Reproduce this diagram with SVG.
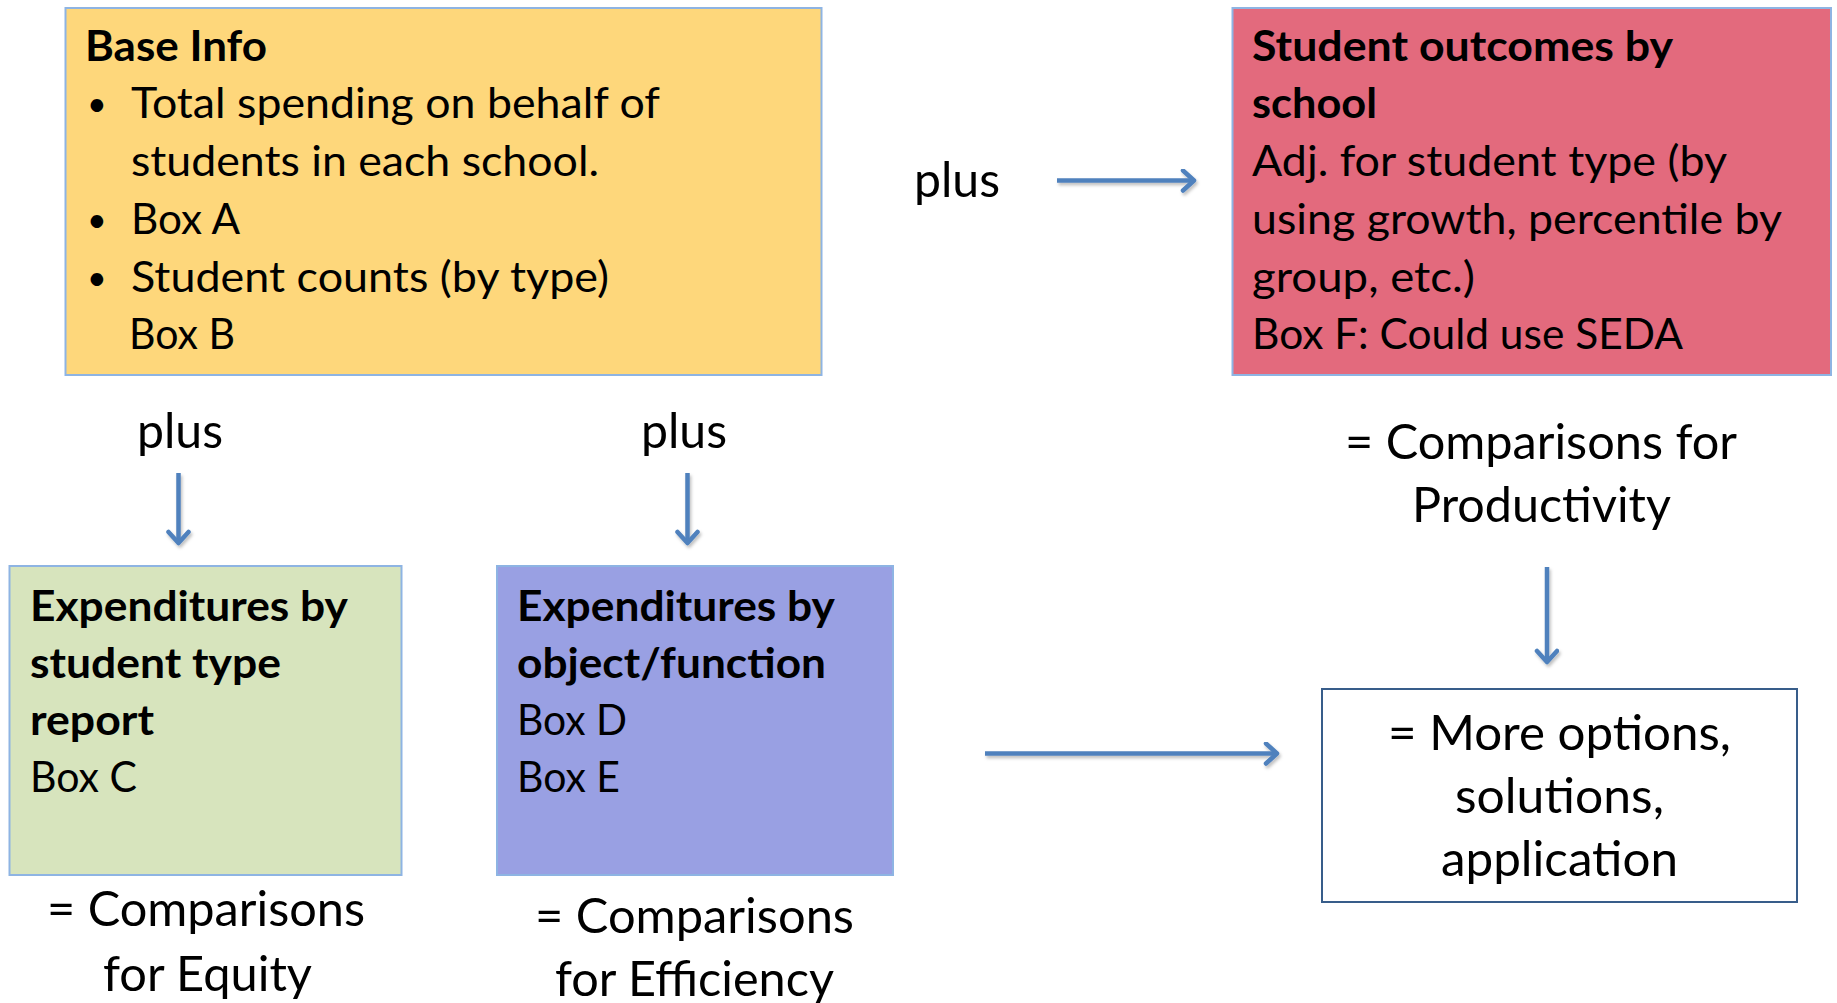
<svg xmlns="http://www.w3.org/2000/svg" width="1837" height="1003" viewBox="0 0 1837 1003">
<style>
text{font-family:Lato,"Open Sans","Liberation Sans",sans-serif;fill:#000}
.b{font-size:42px}
.bu{font-size:34px}
.h{font-size:42px;font-weight:700}
.l{font-size:48px}
.box{stroke:#8EB4E3;stroke-width:2}
.con{stroke:#4F81BD;stroke-width:4.5;fill:none;marker-end:url(#ah);filter:url(#sh)}
</style>
<defs>
<marker id="ah" markerUnits="userSpaceOnUse" markerWidth="30" markerHeight="30" refX="14" refY="12" orient="auto">
<path d="M3,2 L14,12 L3,22" fill="none" stroke="#4F81BD" stroke-width="4.5" stroke-linecap="round" stroke-linejoin="round"/>
</marker>
<filter id="sh" filterUnits="userSpaceOnUse" x="0" y="0" width="1837" height="1003">
<feDropShadow dx="1.5" dy="2.5" stdDeviation="1.5" flood-color="#000" flood-opacity="0.25"/>
</filter>
</defs>
<rect width="1837" height="1003" fill="#fff"/>
<g id="base-info">
<rect class="box" x="65.5" y="8" width="756" height="367" fill="#FED77B"/>
<text class="h" x="85" y="61" textLength="182" lengthAdjust="spacingAndGlyphs">Base Info</text>
<text class="bu" x="87" y="116">•</text>
<text class="b" x="131" y="118" textLength="529" lengthAdjust="spacingAndGlyphs">Total spending on behalf of</text>
<text class="b" x="131" y="176" textLength="468" lengthAdjust="spacingAndGlyphs">students in each school.</text>
<text class="bu" x="87" y="232">•</text>
<text class="b" x="131" y="234" textLength="109" lengthAdjust="spacingAndGlyphs">Box A</text>
<text class="bu" x="87" y="290">•</text>
<text class="b" x="131" y="292" textLength="478" lengthAdjust="spacingAndGlyphs">Student counts (by type)</text>
<text class="b" x="129" y="349" textLength="106" lengthAdjust="spacingAndGlyphs">Box B</text>
</g>
<g id="student-outcomes">
<rect class="box" x="1232.5" y="8" width="598.5" height="367" fill="#E36A7D"/>
<text class="h" x="1252" y="61" textLength="421" lengthAdjust="spacingAndGlyphs">Student outcomes by</text>
<text class="h" x="1252" y="118" textLength="125" lengthAdjust="spacingAndGlyphs">school</text>
<text class="b" x="1252" y="176" textLength="475" lengthAdjust="spacingAndGlyphs">Adj. for student type (by</text>
<text class="b" x="1252" y="234" textLength="530" lengthAdjust="spacingAndGlyphs">using growth, percentile by</text>
<text class="b" x="1252" y="292" textLength="223" lengthAdjust="spacingAndGlyphs">group, etc.)</text>
<text class="b" x="1252" y="349" textLength="431" lengthAdjust="spacingAndGlyphs">Box F: Could use SEDA</text>
</g>
<g id="exp-student-type">
<rect class="box" x="9.5" y="566" width="392" height="309" fill="#D7E4BD"/>
<text class="h" x="30" y="621" textLength="318" lengthAdjust="spacingAndGlyphs">Expenditures by</text>
<text class="h" x="30" y="678" textLength="251" lengthAdjust="spacingAndGlyphs">student type</text>
<text class="h" x="30" y="735" textLength="124" lengthAdjust="spacingAndGlyphs">report</text>
<text class="b" x="30" y="792" textLength="107" lengthAdjust="spacingAndGlyphs">Box C</text>
</g>
<g id="exp-object-function">
<rect class="box" x="497" y="566" width="396" height="309" fill="#99A0E3"/>
<text class="h" x="517" y="621" textLength="318" lengthAdjust="spacingAndGlyphs">Expenditures by</text>
<text class="h" x="517" y="678" textLength="309" lengthAdjust="spacingAndGlyphs">object/function</text>
<text class="b" x="517" y="735" textLength="110" lengthAdjust="spacingAndGlyphs">Box D</text>
<text class="b" x="517" y="792" textLength="103" lengthAdjust="spacingAndGlyphs">Box E</text>
</g>
<g id="more-options">
<rect x="1322" y="689" width="475" height="213" fill="#fff" stroke="#385D8A" stroke-width="2"/>
<text class="l" x="1388" y="750" textLength="343" lengthAdjust="spacingAndGlyphs">= More options,</text>
<text class="l" x="1455" y="813" textLength="209" lengthAdjust="spacingAndGlyphs">solutions,</text>
<text class="l" x="1441" y="876" textLength="237" lengthAdjust="spacingAndGlyphs">application</text>
</g>
<g id="labels">
<text class="l" x="914" y="197" textLength="86" lengthAdjust="spacingAndGlyphs">plus</text>
<text class="l" x="137" y="448" textLength="86" lengthAdjust="spacingAndGlyphs">plus</text>
<text class="l" x="641" y="448" textLength="86" lengthAdjust="spacingAndGlyphs">plus</text>
<text class="l" x="1345" y="459" textLength="392" lengthAdjust="spacingAndGlyphs">= Comparisons for</text>
<text class="l" x="1412" y="522" textLength="259" lengthAdjust="spacingAndGlyphs">Productivity</text>
<text class="l" x="47" y="926" textLength="318" lengthAdjust="spacingAndGlyphs">= Comparisons</text>
<text class="l" x="103" y="991" textLength="209" lengthAdjust="spacingAndGlyphs">for Equity</text>
<text class="l" x="535" y="933" textLength="319" lengthAdjust="spacingAndGlyphs">= Comparisons</text>
<text class="l" x="555" y="996" textLength="279" lengthAdjust="spacingAndGlyphs">for Efficiency</text>
</g>
<g id="connectors">
<path class="con" d="M1057,180.5 H1194"/>
<path class="con" d="M178.5,473 V543"/>
<path class="con" d="M687.5,473 V543"/>
<path class="con" d="M1547,567 V662"/>
<path class="con" d="M985,753.5 H1277"/>
</g>
</svg>
